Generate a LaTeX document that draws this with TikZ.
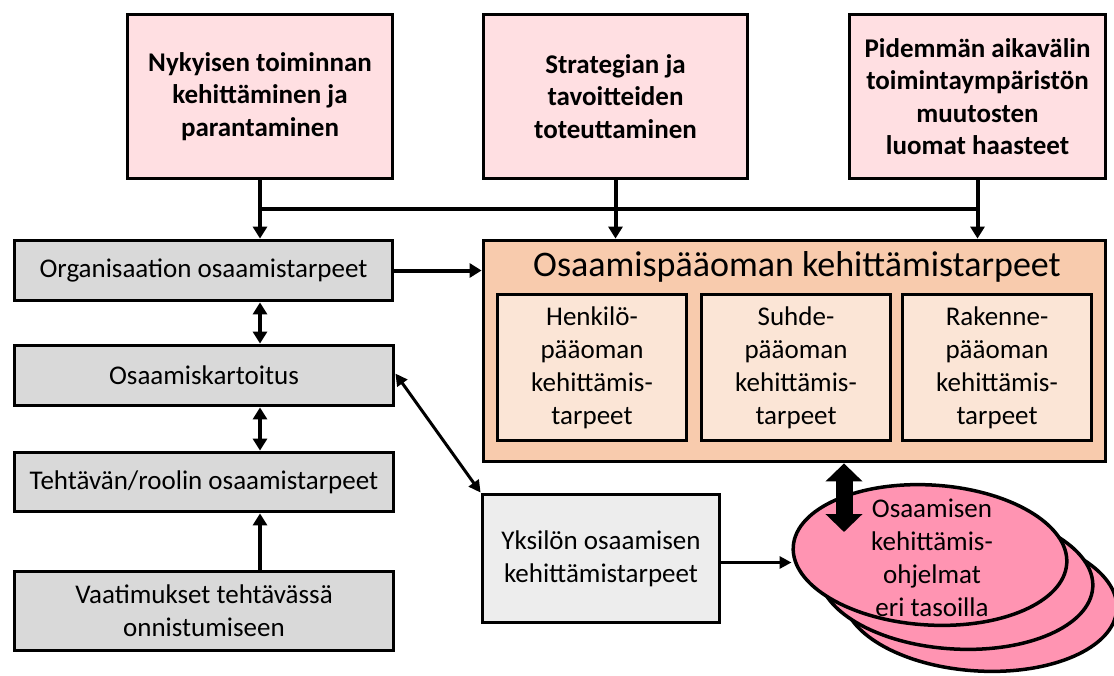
\documentclass[tikz,border=0pt]{standalone}
\usepackage{fontspec}
\setmainfont{Carlito}
\usetikzlibrary{arrows.meta,shapes.geometric}

\definecolor{toppink}{RGB}{255,223,226}
\definecolor{boxgray}{RGB}{217,217,217}
\definecolor{palegray}{RGB}{237,237,237}
\definecolor{capouter}{RGB}{248,203,173}
\definecolor{capinner}{RGB}{251,229,214}
\definecolor{progpink}{RGB}{255,148,178}

\begin{document}
\begin{tikzpicture}[x=1pt,y=-1pt,
  box/.style={draw=black,line width=3.8pt,rectangle,inner sep=0pt,align=center,
    font=\fontsize{27}{33}\selectfont},
  topbox/.style={box,fill=toppink,font=\fontsize{27}{32.5}\selectfont\bfseries},
  graybox/.style={box,fill=boxgray},
  capbox/.style={box,fill=capinner},
  progell/.style={draw=black,line width=3.5pt,ellipse,fill=progpink,inner sep=0pt,
    minimum width=274pt,minimum height=140pt,rotate=-3.5},
  conn/.style={line width=4pt},
  arr/.style={conn,-{Triangle[width=14pt,length=12pt]}},
  dbl/.style={conn,{Triangle[width=14pt,length=12pt]}-{Triangle[width=14pt,length=12pt]}},
  thindbl/.style={line width=3pt,{Triangle[width=12pt,length=12pt]}-{Triangle[width=12pt,length=12pt]}},
  thinarr/.style={line width=3pt,-{Triangle[width=12pt,length=12pt]}},
  fatarr/.style={line width=17pt,{Triangle[width=36pt,length=18pt]}-{Triangle[width=36pt,length=18pt]}}
]
\useasboundingbox (0,0) rectangle (1114,675);

% driving forces along the top
\node[topbox,minimum width=265pt,minimum height=164pt] (t1) at (260,96.5)
  {Nykyisen toiminnan\\kehittäminen ja\\parantaminen};
\node[topbox,minimum width=264pt,minimum height=164pt] (t2) at (615.5,96.5)
  {Strategian ja\\tavoitteiden\\toteuttaminen};
\node[topbox,minimum width=256pt,minimum height=164pt] (t3) at (977.5,96.5)
  {Pidemmän aikavälin\\toimintaympäristön\\muutosten\\luomat haasteet};

% left column
\node[graybox,minimum width=378pt,minimum height=60pt] (org) at (203.5,270.5)
  {Organisaation osaamistarpeet};
\node[graybox,minimum width=379pt,minimum height=60pt] (kart) at (204,375.5)
  {Osaamiskartoitus};
\node[graybox,minimum width=379pt,minimum height=59pt] (teht) at (204,482)
  {Tehtävän/roolin osaamistarpeet};
\node[graybox,minimum width=379pt,minimum height=79pt] (vaat) at (204,611)
  {Vaatimukset tehtävässä\\onnistumiseen};

% intellectual capital block
\node[box,fill=capouter,minimum width=622pt,minimum height=221pt] (osa) at (794.5,351) {};
\node[font=\fontsize{36}{40}\selectfont,inner sep=0pt] (osatitle) at (797,267)
  {Osaamispääoman kehittämistarpeet};
\node[capbox,minimum width=189pt,minimum height=146pt] (hen) at (592,367.5)
  {Henkilö-\\pääoman\\kehittämis-\\tarpeet};
\node[capbox,minimum width=189pt,minimum height=146pt] (suh) at (796,367.5)
  {Suhde-\\pääoman\\kehittämis-\\tarpeet};
\node[capbox,minimum width=189pt,minimum height=146pt] (rak) at (997,367.5)
  {Rakenne-\\pääoman\\kehittämis-\\tarpeet};

% individual needs
\node[box,fill=palegray,minimum width=237pt,minimum height=128pt] (yks) at (601,558.5)
  {Yksilön osaamisen\\kehittämistarpeet};

% stacked programme ellipses
\node[progell] (back) at (980,601) {};
\node[progell] (mid) at (956,579) {};
\node[progell] (front) at (930,555) {};
\node[align=center,inner sep=0pt,font=\fontsize{27}{33}\selectfont] (progtext) at (932,558)
  {Osaamisen\\kehittämis-\\ohjelmat\\eri tasoilla};

% connectors
\coordinate (bus) at (0,209);
\coordinate (spine) at (260,0);
\coordinate (fatend) at (844,532);

\draw[arr] (t1.south) -- (t1.south |- org.north);
\draw[conn] (t1.south |- bus) -- (t3.south |- bus);
\draw[arr] (t2.south) -- (t2.south |- osa.north);
\draw[arr] (t3.south) -- (t3.south |- osa.north);
\draw[arr] (org.east) -- (org.east -| osa.west);

\draw[dbl] (org.south -| spine) -- (kart.north -| spine);
\draw[dbl] (kart.south -| spine) -- (teht.north -| spine);
\draw[arr] (vaat.north -| spine) -- (teht.south -| spine);

\draw[thindbl] ([yshift=2pt]kart.east) -- (yks.north west);
\draw[thinarr] ([yshift=-4pt]yks.east) -- ([yshift=-4pt]yks.east -| front.west);

\draw[fatarr] (osa.south -| fatend) -- (fatend);
\end{tikzpicture}
\end{document}
